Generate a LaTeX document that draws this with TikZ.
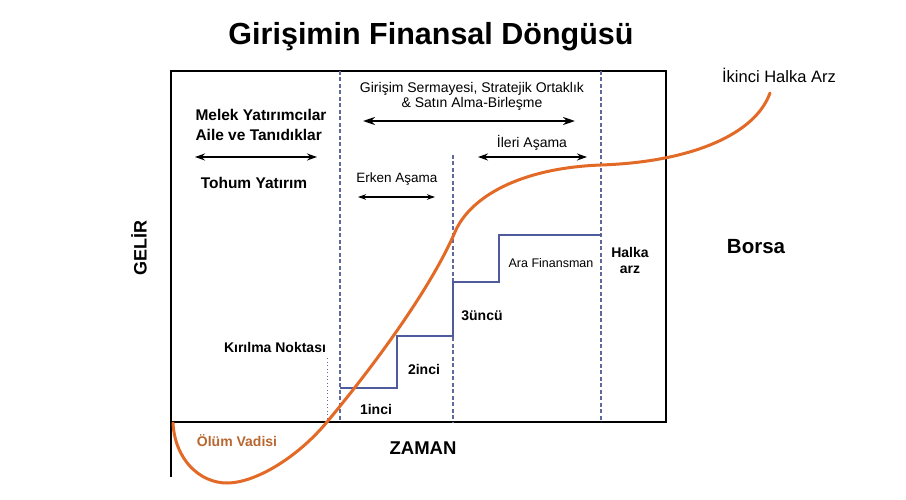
\documentclass[tikz,border=0pt]{standalone}
\usepackage{fontspec}
\setmainfont{Liberation Sans}
\usetikzlibrary{arrows.meta}
\definecolor{curveorange}{RGB}{226,106,38}
\definecolor{stepblue}{RGB}{78,92,158}
\definecolor{dashblue}{RGB}{95,105,155}
\definecolor{valleybrown}{RGB}{185,103,48}
\newcommand{\fs}[1]{\fontsize{#1}{#1}\selectfont}
\begin{document}
\begin{tikzpicture}[x=1pt,y=-1pt,>={Stealth[length=10pt,width=7pt]},
  lbl/.style={font=\bfseries\fs{14}},
  plain/.style={font=\fs{14}},
  phase/.style={dashblue,line width=1.1pt,dash pattern=on 4pt off 2.5pt},
  span/.style={<->,line width=1.4pt}]
\useasboundingbox (0,0) rectangle (906,500);
% frame and axes
\draw[line width=1.4pt] (171,477) -- (171,71) -- (666,71) -- (666,422) -- (171,422);
\draw[phase] (340,71) -- (340,422);
\draw[phase] (453,155) -- (453,422);
\draw[phase] (601,71) -- (601,422);
\draw[dashblue,line width=1pt,dash pattern=on 1pt off 2.5pt] (327,358) -- (327,422);
% funding steps
\draw[stepblue,line width=1.3pt] (340,388) -- (397,388) -- (397,336) -- (453,336)
  -- (453,282) -- (499,282) -- (499,235) -- (601,235);
% cycle curve
\draw[curveorange,line width=3pt,line cap=round] (173,423)
  .. controls (175,460) and (200,483) .. (227,483)
  .. controls (255,483) and (297,458) .. (327,422)
  .. controls (372,368) and (430,290) .. (455,232)
  .. controls (470,197) and (520,168) .. (601,165)
  .. controls (690,162) and (755,135) .. (770,93);
% texts
\node (title) at (431,37) {\bfseries\fs{30.5}Girişimin Finansal Döngüsü};
\node[lbl,font=\bfseries\fs{15.5},align=left] (melek) at (261,125) {Melek Yatırımcılar\\[4.5pt]Aile ve Tanıdıklar};
\node[lbl,font=\bfseries\fs{15.5}] (tohum) at (254,183) {Tohum Yatırım};
\node[plain,align=center] (girisim) at (472,96) {Girişim Sermayesi, Stratejik Ortaklık\\[1pt]\& Satın Alma-Birleşme};
\node[plain] (ileri) at (532,143) {İleri Aşama};
\node[plain,font=\fs{13.5}] (erken) at (397,179) {Erken Aşama};
\node[plain,font=\fs{12.5}] (ara) at (551,263) {Ara Finansman};
\node[lbl,align=center] (halka) at (630,260) {Halka\\[2pt]arz};
\node[lbl,font=\bfseries\fs{20.5}] (borsa) at (756,247) {Borsa};
\node[plain,font=\fs{16.5}] (ikinci) at (779,75) {İkinci Halka Arz};
\node[lbl] (ucuncu) at (482,316) {3üncü};
\node[lbl] (ikinci2) at (424,369) {2inci};
\node[lbl] (birinci) at (376,409) {1inci};
\node[lbl] (kirilma) at (275,347) {Kırılma Noktası};
\node[lbl,valleybrown] (olum) at (237,441) {Ölüm Vadisi};
\node[lbl,font=\bfseries\fs{18.5}] (zaman) at (423,448) {ZAMAN};
\node[lbl,font=\bfseries\fs{18},rotate=90] (gelir) at (139,248) {GELİR};
% spans
\coordinate (m1) at (195,157); \coordinate (m2) at (317,157);
\coordinate (g1) at (363,121); \coordinate (g2) at (575,121);
\coordinate (i1) at (478,157); \coordinate (i2) at (587,157);
\coordinate (e1) at (358,197); \coordinate (e2) at (435,197);
\draw[span] (m1) -- (m2);
\draw[span,line width=2pt,>={Stealth[length=12pt,width=8pt]}] (g1) -- (g2);
\draw[span] (i1) -- (i2);
\draw[span,line width=1.1pt,>={Stealth[length=8pt,width=5.5pt]}] (e1) -- (e2);
\end{tikzpicture}
\end{document}
